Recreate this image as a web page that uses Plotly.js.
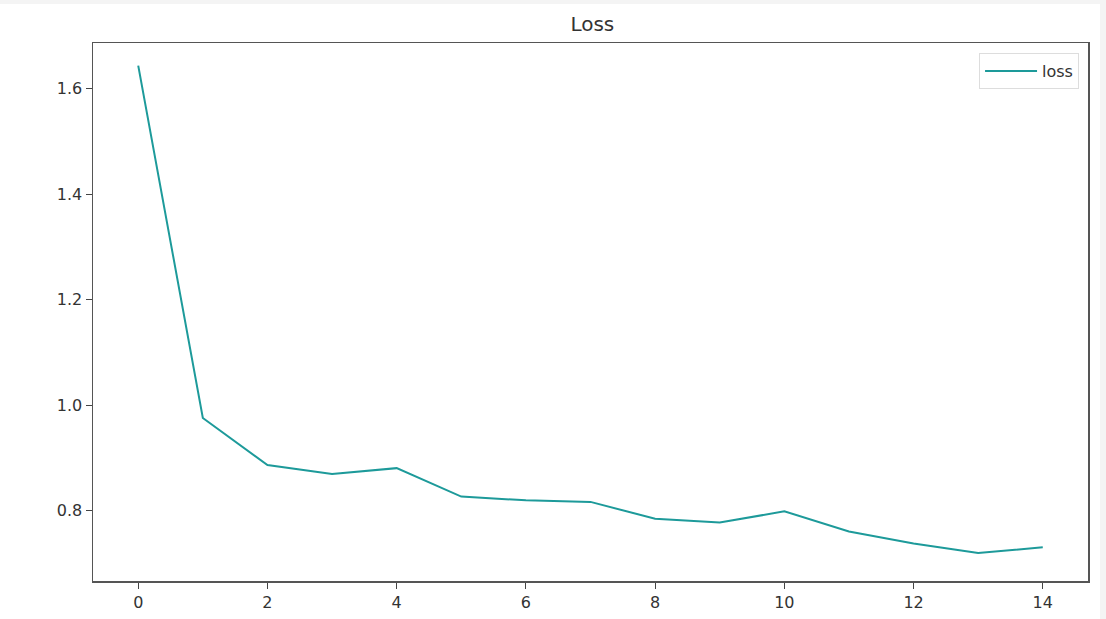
<!DOCTYPE html>
<html>
<head>
<meta charset="utf-8">
<script src="https://cdn.plot.ly/plotly-3.0.1.min.js"></script>
<style>
  html, body { margin: 0; padding: 0; background: #f4f4f4; width: 1106px; height: 619px; overflow: hidden; }
  #chart { position: absolute; left: 0; top: 4px; width: 1100px; height: 615px; background: #ffffff; }
</style>
</head>
<body>
<div id="chart"></div>
<script>
const epochs = [0, 1, 2, 3, 4, 5, 6, 7, 8, 9, 10, 11, 12, 13, 14];
const lossValues = [1.644, 0.976, 0.887, 0.870, 0.881, 0.827, 0.820, 0.817, 0.785, 0.778, 0.799, 0.761, 0.738, 0.720, 0.731];
const seriesName = 'loss';
const chartTitle = 'Loss';
const xTicks = [0, 2, 4, 6, 8, 10, 12, 14];
const yTicks = [0.8, 1.0, 1.2, 1.4, 1.6];

const fontFam = '"DejaVu Sans", sans-serif';

const trace = {
  x: epochs,
  y: lossValues,
  type: 'scatter',
  mode: 'lines',
  name: seriesName,
  line: { color: '#1d9a9a', width: 2 }
};

const layout = {
  width: 1100,
  height: 615,
  paper_bgcolor: '#ffffff',
  plot_bgcolor: '#ffffff',
  margin: { l: 93, r: 12, t: 39, b: 38 },
  font: { family: fontFam, size: 16, color: '#333333' },
  title: { text: chartTitle, x: 0.5385, xanchor: 'center', y: 0.968, yanchor: 'middle', font: { family: fontFam, size: 20, color: '#333333' } },
  showlegend: true,
  legend: {
    x: 0.991, xanchor: 'right', y: 0.981, yanchor: 'top',
    bgcolor: '#ffffff', bordercolor: '#dddddd', borderwidth: 1,
    itemwidth: 52,
    font: { family: fontFam, size: 16, color: '#333333' }
  },
  xaxis: {
    range: [-0.7, 14.7],
    tickvals: xTicks,
    ticktext: xTicks.map(String),
    ticks: 'outside', ticklen: 6, tickwidth: 1, tickcolor: '#444444',
    showgrid: false, zeroline: false,
    showline: true, linecolor: '#555555', linewidth: 1.5, mirror: true,
    tickfont: { family: fontFam, size: 16, color: '#333333' }
  },
  yaxis: {
    range: [0.667, 1.687],
    tickvals: yTicks,
    ticktext: yTicks.map(v => v.toFixed(1)),
    ticks: 'outside', ticklen: 6, tickwidth: 1, tickcolor: '#444444',
    showgrid: false, zeroline: false,
    showline: true, linecolor: '#555555', linewidth: 1.5, mirror: true,
    tickfont: { family: fontFam, size: 16, color: '#333333' }
  }
};

Plotly.newPlot('chart', [trace], layout, { displayModeBar: false, staticPlot: true });
</script>
</body>
</html>
